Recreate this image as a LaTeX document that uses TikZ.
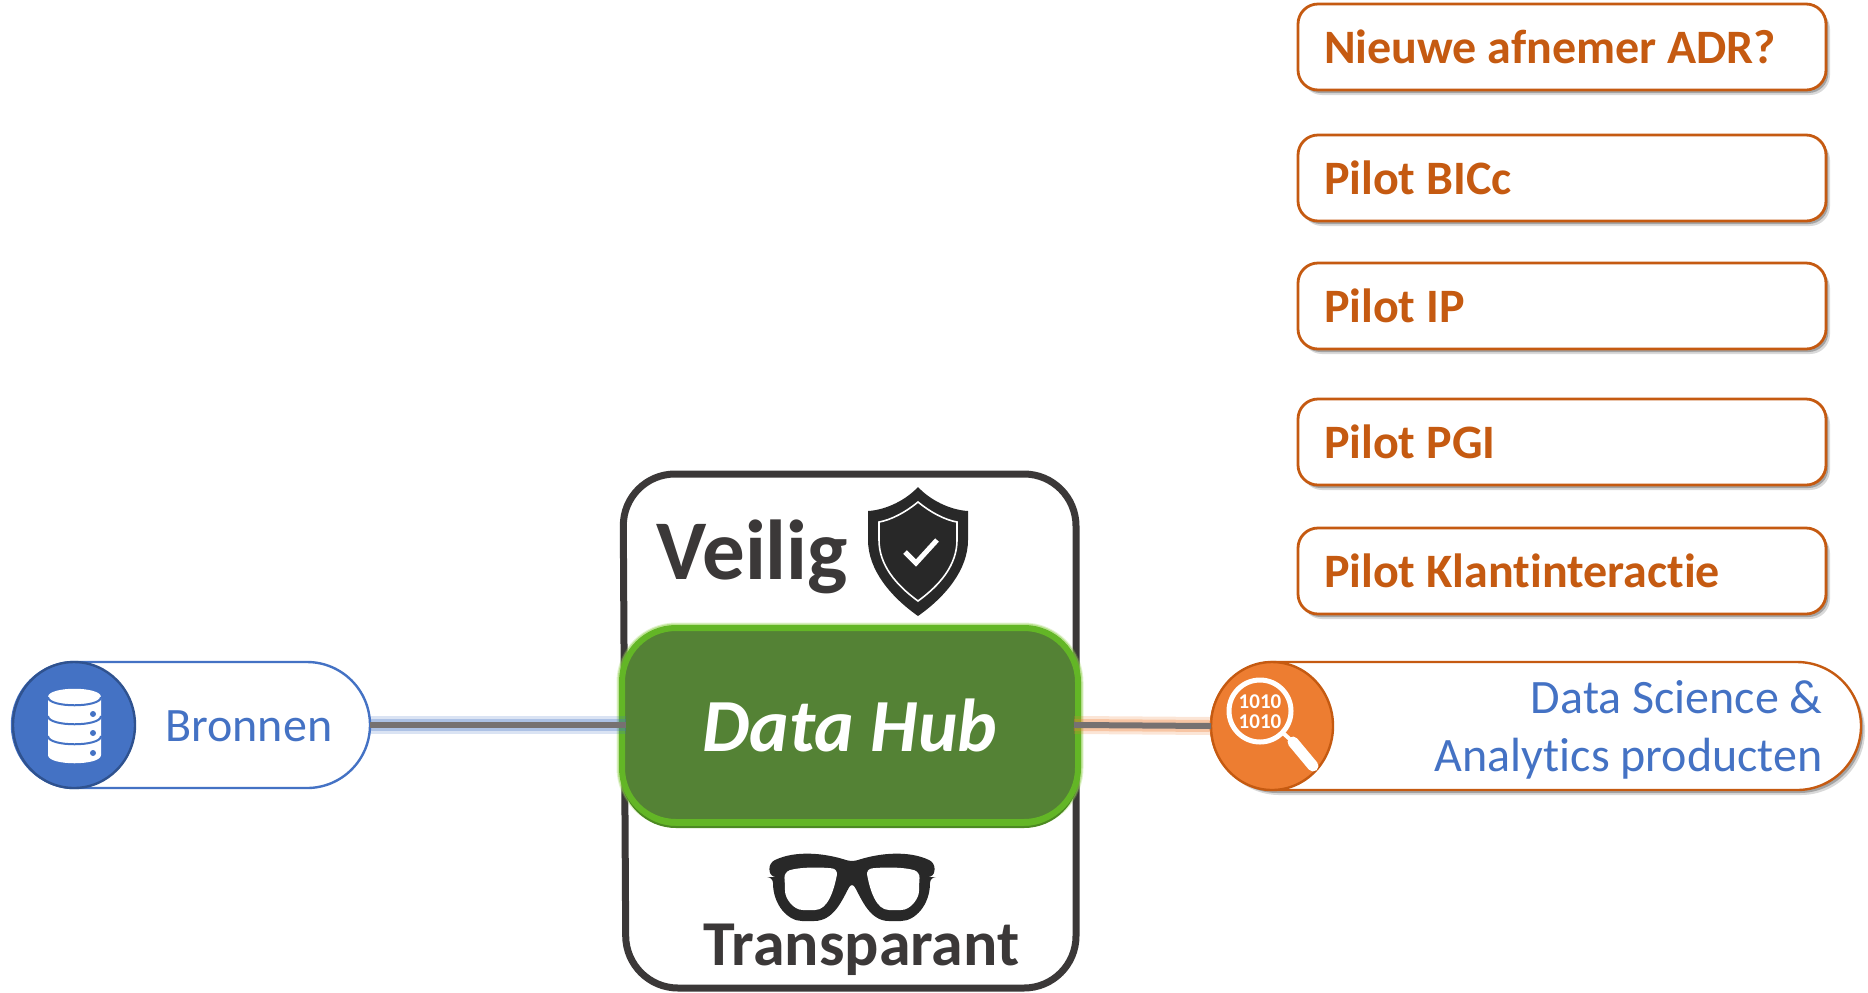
\documentclass[tikz,border=0pt]{standalone}
\usepackage{fontspec}
\setmainfont[Ligatures=NoCommon]{Carlito}
\usetikzlibrary{shapes.misc,shapes.geometric,shadows}

\definecolor{oranje}{HTML}{C55A11}
\definecolor{oranjevol}{HTML}{ED7D31}
\definecolor{blauw}{HTML}{4472C4}
\definecolor{blauwrand}{HTML}{2F528F}
\definecolor{donker}{HTML}{3B3838}
\definecolor{icoon}{HTML}{282828}
\definecolor{lijn}{HTML}{767171}
\definecolor{hubvol}{HTML}{548235}
\definecolor{hubrand}{HTML}{63B626}
\definecolor{hubgloed}{HTML}{92D050}
\definecolor{hubrug}{HTML}{4C8A22}

\tikzset{
    zachteschaduw/.style={drop shadow={shadow xshift=2pt, shadow yshift=-2.5pt, opacity=0.15, fill=black}, drop shadow={shadow xshift=1.2pt, shadow yshift=-1.5pt, opacity=0.25, fill=black}},
    pilotbox/.style={draw=oranje, line width=1.4pt, fill=white, rounded corners=10pt, minimum width=264pt, minimum height=43pt, inner xsep=13pt, inner ysep=0pt, outer sep=0pt, text width=238pt, align=flush left, text=oranje, text height=16pt, text depth=0pt, font=\bfseries\fontsize{24}{28}\selectfont, zachteschaduw},
    capsule/.style={rounded rectangle, draw=#1, line width=1.2pt, fill=white, minimum width=179pt, minimum height=63pt, inner sep=0pt, outer sep=0pt},
    iconball/.style={ellipse, draw=#1, line width=1.2pt, inner sep=0pt, outer sep=0pt},
    hublink/.style={lijn, line width=3pt, preaction={draw=#1, line width=9pt, opacity=0.2}, preaction={draw=#1, line width=6pt, opacity=0.3}},
    hubvorm/.style={rounded corners=27pt, minimum width=228pt, minimum height=97pt, outer sep=0pt}
}

\begin{document}
\begin{tikzpicture}[x=0.5pt, y=-0.5pt]
    \useasboundingbox (0,0) rectangle (1868,992);

    \draw[donker, line width=3.5pt, rounded corners=26pt] (623,474) -- (1076,474) -- (1076,988) -- (626,988) -- cycle;

    \node[anchor=base west, inner sep=0pt, text=donker, font=\bfseries\fontsize{42.5}{48}\selectfont] (veilig) at (656,579) {Veilig};
    \node[anchor=base west, inner sep=0pt, text=donker, font=\bfseries\fontsize{32}{36}\selectfont] (transparant) at (703,965) {Transparant};

    \fill[icoon] (918,487) .. controls (930,500) and (950,510) .. (968,511) -- (968,540) .. controls (968,570) and (945,597) .. (918,616) .. controls (891,597) and (868,570) .. (868,540) -- (868,511) .. controls (886,510) and (906,500) .. (918,487) -- cycle;
    \draw[white, line width=0.8pt] (918,502) .. controls (930,512) and (945,520) .. (957,522) -- (957,540) .. controls (957,565) and (940,585) .. (918,601) .. controls (896,585) and (879,565) .. (879,540) -- (879,522) .. controls (891,520) and (906,512) .. (918,502) -- cycle;
    \draw[white, line width=2.5pt] (905,552) -- (916,563) -- (937,540);

    \fill[icoon, rounded corners=3pt] (769,863) .. controls (795,850) and (825,853) .. (852,862) .. controls (879,853) and (909,850) .. (935,863) -- (934,877) -- (930,877) .. controls (930,905) and (915,921) .. (895,921) .. controls (870,921) and (862,900) .. (852,882) .. controls (842,900) and (834,921) .. (808,921) .. controls (788,921) and (773,905) .. (773,877) -- (770,877) -- cycle;
    \fill[white, rounded corners=3pt] (784,872) .. controls (800,867) and (820,867) .. (838,869) .. controls (834,890) and (828,910) .. (809,910) .. controls (793,910) and (785,898) .. (785,885) -- cycle;
    \fill[white, rounded corners=3pt] (920,872) .. controls (904,867) and (884,867) .. (866,869) .. controls (870,890) and (876,910) .. (895,910) .. controls (911,910) and (919,898) .. (919,885) -- cycle;

    \node[capsule=blauw] (bronnen) at (191,725) {};
    \node[anchor=base west, inner sep=0pt, text=blauw, font=\fontsize{24}{28}\selectfont] (bronnentekst) at (165,741) {Bronnen};
    \node[iconball=blauwrand, fill=blauw, minimum width=61pt, minimum height=63pt] (bronnenicoon) at (74,725) {};

    \fill[white] (48,697) .. controls (48,686) and (101,686) .. (101,697) -- (101,755) .. controls (101,766) and (48,766) .. (48,755) -- cycle;
    \draw[blauw, line width=1pt] (48,697) .. controls (48,708) and (101,708) .. (101,697);
    \draw[blauw, line width=1pt] (48,716) .. controls (48,727) and (101,727) .. (101,716);
    \draw[blauw, line width=1pt] (48,736) .. controls (48,747) and (101,747) .. (101,736);
    \fill[blauw] (93,714) circle (3);
    \fill[blauw] (93,733) circle (3);
    \fill[blauw] (93,753) circle (3);

    \node[capsule=oranje, minimum width=325pt, minimum height=64pt, zachteschaduw] (producten) at (1536,726) {};
    \node[anchor=east, inner sep=0pt, align=right, text=blauw, font=\fontsize{24}{29}\selectfont] (productentekst) at (1823,730) {Data Science \&\\Analytics producten};
    \node[iconball=oranje, fill=oranjevol, minimum width=61pt, minimum height=64pt] (producticoon) at (1272,726) {};

    \draw[white, line width=2.5pt] (1260,711) circle (31);
    \draw[white, line width=5.5pt, line cap=round] (1293,742) -- (1313,766);
    \draw[white, line width=2pt] (1283,733) -- (1293,742);
    \node[text=white, inner sep=0pt, font=\bfseries\fontsize{10.5}{12}\selectfont] (bits1) at (1260,702) {1010};
    \node[text=white, inner sep=0pt, font=\bfseries\fontsize{10.5}{12}\selectfont] (bits2) at (1260,722) {1010};

    \node[hubvorm, draw=hubgloed, line width=5.5pt, opacity=0.25] (hubgloed2) at (850,725) {};
    \node[hubvorm, draw=hubgloed, line width=4.5pt, opacity=0.5] (hubgloed1) at (850,725) {};
    \node[hubvorm, minimum height=100pt, fill=hubrand, draw=hubrug, line width=1pt] (hubachter) at (850,727) {};
    \node[hubvorm, fill=hubvol, draw=hubrand, line width=3pt, text=white, font=\bfseries\itshape\fontsize{37.5}{44}\selectfont] (hub) at (850,725) {Data Hub};

    \draw[hublink=blauw, shorten >=-2pt] (bronnen.east) -- (hub.west);
    \draw[hublink=oranjevol, shorten <=-2pt] (hub.east) -- (producticoon.west);

    \node[pilotbox] (adr) at (1562,47) {Nieuwe afnemer ADR?};
    \node[pilotbox] (bicc) at (1562,178) {Pilot BICc};
    \node[pilotbox] (ip) at (1562,306) {Pilot IP};
    \node[pilotbox] (pgi) at (1562,442) {Pilot PGI};
    \node[pilotbox] (klant) at (1562,571) {Pilot Klantinteractie};
\end{tikzpicture}
\end{document}
